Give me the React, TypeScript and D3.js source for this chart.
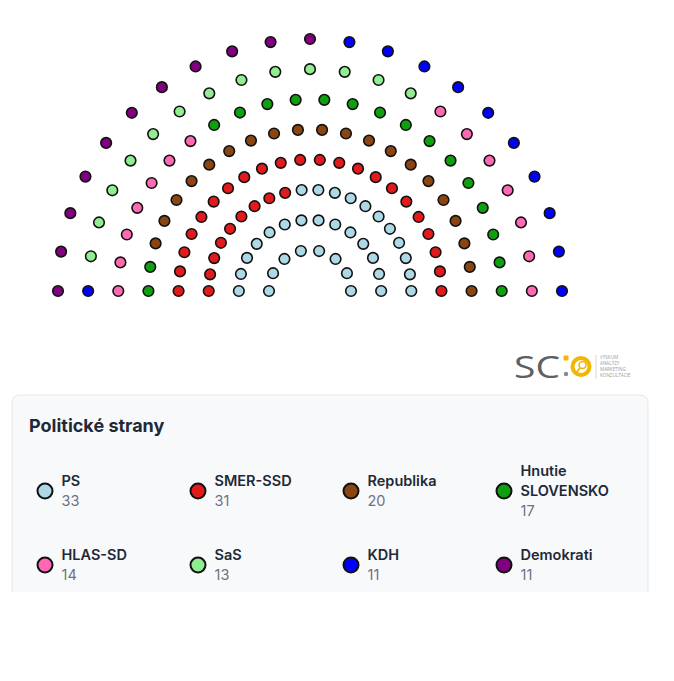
import React, { useEffect, useRef } from 'react';
import * as d3 from 'd3';

const parties = ['PS', 'SMER-SSD', 'Republika', 'Hnutie SLOVENSKO', 'HLAS-SD', 'SaS', 'KDH', 'Demokrati'];
const seatCounts = [33, 31, 20, 17, 14, 13, 11, 11];
const partyColors = ['#add8e6', '#e31a1c', '#8b4513', '#0fa00f', '#ff69b4', '#90ee90', '#0000ff', '#800080'];
// seats per arc, inner to outer
const rowSeats = [8, 14, 20, 22, 22, 22, 21, 21];
const logoTags = ['VÝSKUM', 'ANALÝZY', 'MARKETING', 'KONZULTÁCIE'];

const W = 674;
const H = 681;
const FONT = 'Inter, "Noto Sans", sans-serif';

const App = () => {
  const svgRef = useRef<SVGSVGElement>(null);

  useEffect(() => {
    const svg = d3.select(svgRef.current);
    svg.selectAll('*').remove();

    // --- parliament arcs ---
    const cx = 310;
    const cy = 291;
    const radius = d3.scaleLinear().domain([0, rowSeats.length - 1]).range([41, 252]);

    // party of each seat, filled row by row (inner first), right to left
    const seatParty: number[] = [];
    seatCounts.forEach((n, i) => {
      for (let k = 0; k < n; k++) seatParty.push(i);
    });

    const seats: { x: number; y: number; p: number }[] = [];
    let idx = 0;
    rowSeats.forEach((n, row) => {
      const angle = d3.scaleLinear().domain([0, n - 1]).range([0, Math.PI]);
      const r = radius(row);
      for (let s = 0; s < n; s++) {
        const a = angle(s);
        seats.push({ x: cx + r * Math.cos(a), y: cy - r * Math.sin(a), p: seatParty[idx] });
        idx++;
      }
    });

    svg.append('g')
      .selectAll('circle')
      .data(seats)
      .join('circle')
      .attr('cx', d => d.x)
      .attr('cy', d => d.y)
      .attr('r', 5.3)
      .attr('fill', d => partyColors[d.p])
      .attr('stroke', '#111')
      .attr('stroke-width', 1.6);

    // --- logo ---
    const logo = svg.append('g');
    logo.append('text')
      .attr('x', 514)
      .attr('y', 377.5)
      .attr('font-family', '"Open Sans", sans-serif')
      .attr('font-size', 31)
      .attr('font-weight', 500)
      .attr('textLength', 46)
      .attr('lengthAdjust', 'spacingAndGlyphs')
      .attr('fill', '#5f6062')
      .text('SC');
    logo.append('rect')
      .attr('x', 563.5).attr('y', 355.5).attr('width', 5).attr('height', 5).attr('rx', 1)
      .attr('fill', '#f2b705');
    logo.append('circle')
      .attr('cx', 566).attr('cy', 374).attr('r', 2.2)
      .attr('fill', '#8a8a8a');
    logo.append('circle')
      .attr('cx', 581).attr('cy', 366.5).attr('r', 8.5)
      .attr('fill', 'none')
      .attr('stroke', '#f2b705')
      .attr('stroke-width', 4);
    logo.append('circle')
      .attr('cx', 582.5).attr('cy', 365).attr('r', 3.5)
      .attr('fill', 'none')
      .attr('stroke', '#f2b705')
      .attr('stroke-width', 1.6);
    logo.append('line')
      .attr('x1', 580).attr('y1', 368).attr('x2', 576).attr('y2', 373)
      .attr('stroke', '#f2b705')
      .attr('stroke-width', 2);
    logo.append('line')
      .attr('x1', 596).attr('y1', 355).attr('x2', 596).attr('y2', 379)
      .attr('stroke', '#d0d0d0')
      .attr('stroke-width', 0.8);
    logo.selectAll('text.tag')
      .data(logoTags)
      .join('text')
      .attr('class', 'tag')
      .attr('x', 600)
      .attr('y', (d, i) => 358.5 + i * 6)
      .attr('font-family', '"Open Sans", sans-serif')
      .attr('font-size', 4.6)
      .attr('fill', '#9a9a9a')
      .text(d => d);

    // --- legend card (cut off at bottom of viewport area) ---
    const cardTop = 395;
    const cardBottom = 592;
    const x0 = 12;
    const x1 = 648;
    const rr = 8;
    svg.append('path')
      .attr('d', `M${x0},${cardBottom} V${cardTop + rr} Q${x0},${cardTop} ${x0 + rr},${cardTop} H${x1 - rr} Q${x1},${cardTop} ${x1},${cardTop + rr} V${cardBottom}`)
      .attr('fill', '#f8f9fb')
      .attr('stroke', '#e3e7ec')
      .attr('stroke-width', 1);

    svg.append('text')
      .attr('x', 29)
      .attr('y', 432)
      .attr('font-family', FONT)
      .attr('font-size', 18)
      .attr('font-weight', 700)
      .attr('fill', '#1f2937')
      .text('Politické strany');

    const colX = d3.scalePoint().domain(d3.range(4).map(String)).range([45, 504]);
    const rowY = d3.scalePoint().domain(['0', '1']).range([491, 565]);

    const items = svg.append('g')
      .selectAll('g')
      .data(parties)
      .join('g')
      .attr('transform', (d, i) => `translate(${colX(String(i % 4))},${rowY(String(Math.floor(i / 4)))})`);

    items.append('circle')
      .attr('r', 7.5)
      .attr('fill', (d, i) => partyColors[i])
      .attr('stroke', '#111')
      .attr('stroke-width', 2);

    items.each(function (d, i) {
      const g = d3.select(this);
      const lines = d.includes(' ') ? d.split(' ') : [d];
      const total = lines.length + 1;
      const lh = 20;
      const firstBaseline = -((total - 1) * lh) / 2 + 5;
      lines.forEach((ln, k) => {
        g.append('text')
          .attr('x', 16.5)
          .attr('y', firstBaseline + k * lh)
          .attr('font-family', FONT)
          .attr('font-size', 14.5)
          .attr('font-weight', 600)
          .attr('fill', '#1f2937')
          .text(ln);
      });
      g.append('text')
        .attr('x', 16.5)
        .attr('y', firstBaseline + lines.length * lh)
        .attr('font-family', FONT)
        .attr('font-size', 14.5)
        .attr('fill', '#6b7280')
        .text(seatCounts[i]);
    });
  }, []);

  return (
    <svg
      ref={svgRef}
      width={W}
      height={H}
      style={{ position: 'absolute', left: 0, top: 0, background: '#fff' }}
    />
  );
};

export default App;
